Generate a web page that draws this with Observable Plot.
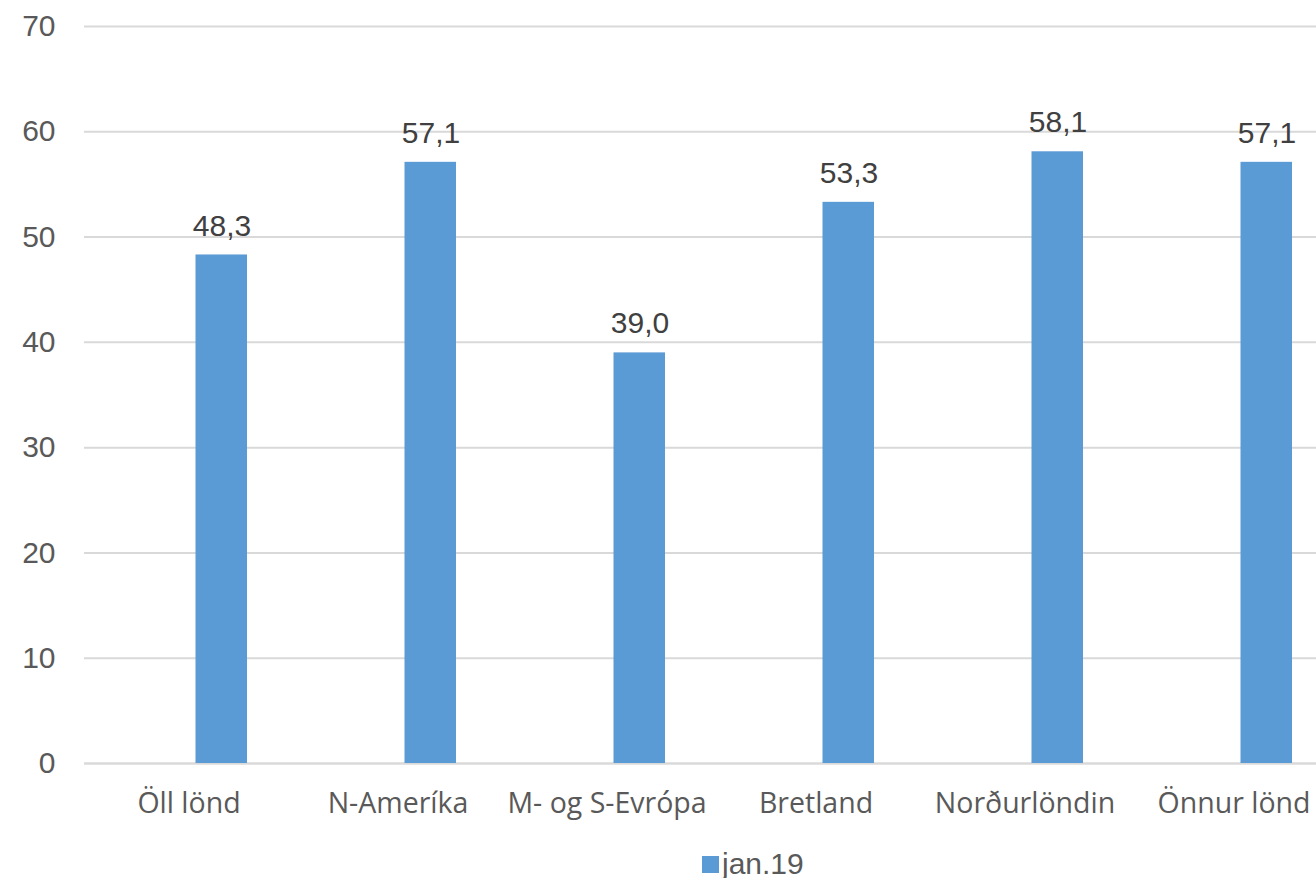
<!DOCTYPE html>
<html>
<head>
<meta charset="utf-8">
<script src="https://cdn.jsdelivr.net/npm/d3@7"></script>
<script src="https://cdn.jsdelivr.net/npm/@observablehq/plot@0.6"></script>
<style>
  html, body { margin: 0; padding: 0; background: #fff; overflow: hidden; }
  #chart svg { display: block; overflow: hidden; }
  .legend { display: flex; align-items: center; margin-left: 702px; margin-top: 9px; height: 30px; line-height: 30px;
    font-family: "Liberation Sans", Arial, sans-serif; font-size: 30px; color: #595959; }
  .legend .sw { width: 17px; height: 17px; background: #5b9bd5; margin-right: 3px; }
</style>
</head>
<body>
<div id="chart"></div>
<script>
const categories = ["Öll lönd", "N-Ameríka", "M- og S-Evrópa", "Bretland", "Norðurlöndin", "Önnur lönd"];
const values = [48.3, 57.1, 39.0, 53.3, 58.1, 57.1];
const seriesName = "jan.19";
const yTicks = [0, 10, 20, 30, 40, 50, 60, 70];

const data = categories.map((c, i) => ({category: c, value: values[i]}));
const fmt = v => v.toFixed(1).replace(".", ",");
const numFont = "'Liberation Sans', Arial, sans-serif";

const chart = Plot.plot({
  width: 1316,
  height: 840,
  marginTop: 26,
  marginBottom: 77,
  marginLeft: 84,
  marginRight: -22,
  style: {fontFamily: "'Open Sans', sans-serif", fontSize: "28.5px", color: "#595959", background: "#fff"},
  x: {domain: categories, padding: 0, label: null},
  y: {domain: [0, 70], ticks: yTicks, label: null},
  marks: [
    Plot.gridY(yTicks, {stroke: "#d9d9d9", strokeOpacity: 1, strokeWidth: 2}),
    Plot.ruleY([0], {stroke: "#d9d9d9", strokeWidth: 2}),
    Plot.barY(data, {x: "category", y: "value", fill: "#5b9bd5", insetLeft: 111.5, insetRight: 46}),
    Plot.text(data, {x: "category", y: "value", text: d => fmt(d.value), dx: 33, dy: -29,
      fill: "#404040", fontSize: 30, fontFamily: numFont}),
    Plot.axisY(yTicks, {tickSize: 0, tickPadding: 29, fontSize: 30, fontFamily: numFont, fill: "#595959", label: null}),
    Plot.axisX({tickSize: 0, tickPadding: 29.5, fontSize: 28.5, fill: "#595959", label: null})
  ]
});
document.getElementById("chart").appendChild(chart);

const legend = document.createElement("div");
legend.className = "legend";
legend.innerHTML = `<span class="sw"></span><span>${seriesName}</span>`;
document.body.appendChild(legend);
</script>
</body>
</html>
